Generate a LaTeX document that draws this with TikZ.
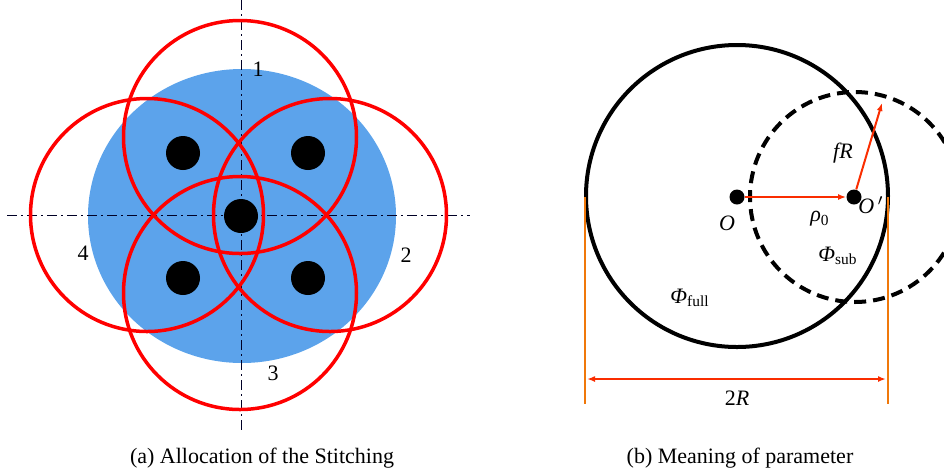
\documentclass[tikz,border=0pt]{standalone}
\usepackage{fontspec}
\setmainfont{Liberation Serif}
\usepackage{xcolor}
\usetikzlibrary{arrows.meta}
\definecolor{wafer}{RGB}{92,163,235}
\definecolor{dimline}{RGB}{250,45,0}
\definecolor{extline}{RGB}{240,120,10}

\begin{document}
\begin{tikzpicture}[x=0.5pt,y=-0.5pt,
  ring/.style={draw=red,line width=1.75pt},
  axis/.style={draw=black!85!blue,line width=0.45pt,dash pattern=on 5pt off 2pt on 1pt off 2pt},
  spot/.style={circle,fill=black,inner sep=0pt,minimum size=17pt},
  pt/.style={circle,fill=black,inner sep=0pt,minimum size=7.5pt},
  arr/.style={-{Latex[length=4pt,width=3pt]},line width=1pt,draw=dimline},
  lbl/.style={font=\fontsize{11}{13}\selectfont}]

  \useasboundingbox (0,0) rectangle (944,473);

  %% Allocation of the stitching
  \begin{scope}
    \fill[wafer] (242,216) ellipse [x radius=77pt,y radius=73.5pt];
    \draw[axis] (241,0)--(241,433);   % vertical axis
    \draw[axis] (7,215)--(470,215);   % horizontal axis
    % sub-apertures
    \draw[ring] (240,137) circle [radius=58.25pt];
    \draw[ring] (330,215) circle [radius=58.25pt];
    \draw[ring] (240,293) circle [radius=58.25pt];
    \draw[ring] (147,215) circle [radius=58.25pt];
    % marks
    \node[spot] (s1) at (183,153) {};
    \node[spot] (s2) at (308,153) {};
    \node[spot] (s0) at (241,216) {};
    \node[spot] (s3) at (183,278) {};
    \node[spot] (s4) at (308,278) {};
    % labels
    \node[lbl] (n1) at (258,69) {1};
    \node[lbl] (n2) at (406,255) {2};
    \node[lbl] (n3) at (273,373) {3};
    \node[lbl] (n4) at (83,253) {4};
    \node[lbl] (capa) at (262,458) {(a) Allocation of the Stitching};
  \end{scope}

  %% Meaning of parameter
  \begin{scope}
    \draw[black,line width=2pt] (737,196) circle [radius=75.5pt];
    \draw[black,line width=2pt,dash pattern=on 6pt off 3.5pt] (855,197) circle [radius=52.5pt];
    \node[pt] (O) at (737,197) {};
    \node[pt] (Op) at (854,197) {};
    \coordinate (edge) at (882,103);
    \draw[arr] (O)--(Op);
    \draw[arr] (Op)--(edge);
    % dimension 2R
    \coordinate (dl) at (585,197);
    \coordinate (dr) at (888,197);
    \draw[extline,line width=0.6pt] (dl)--++(0,207) coordinate (dlb);
    \draw[extline,line width=0.6pt] (dr)--++(0,207) coordinate (drb);
    \draw[arr,{Latex[length=4pt,width=3pt]}-{Latex[length=4pt,width=3pt]}] (587,379)--(886,379);
    % labels
    \node[lbl] (lO) at (727,223) {\textit{O}};
    \node[lbl] (lOp) at (871,205) {\textit{O}\,$'$};
    \node[lbl] (lrho) at (820,219) {\textit{ρ}\textsubscript{0}};
    \node[lbl] (lfR) at (843,153) {\textit{fR}};
    \node[lbl] (lsub) at (838,256) {\textit{Φ}\textsubscript{sub}};
    \node[lbl] (lfull) at (690,298) {\textit{Φ}\textsubscript{full}};
    \node[lbl] (l2R) at (737,398) {2\textit{R}};
    \node[lbl] (capb) at (740,458) {(b) Meaning of parameter};
  \end{scope}

\end{tikzpicture}
\end{document}
